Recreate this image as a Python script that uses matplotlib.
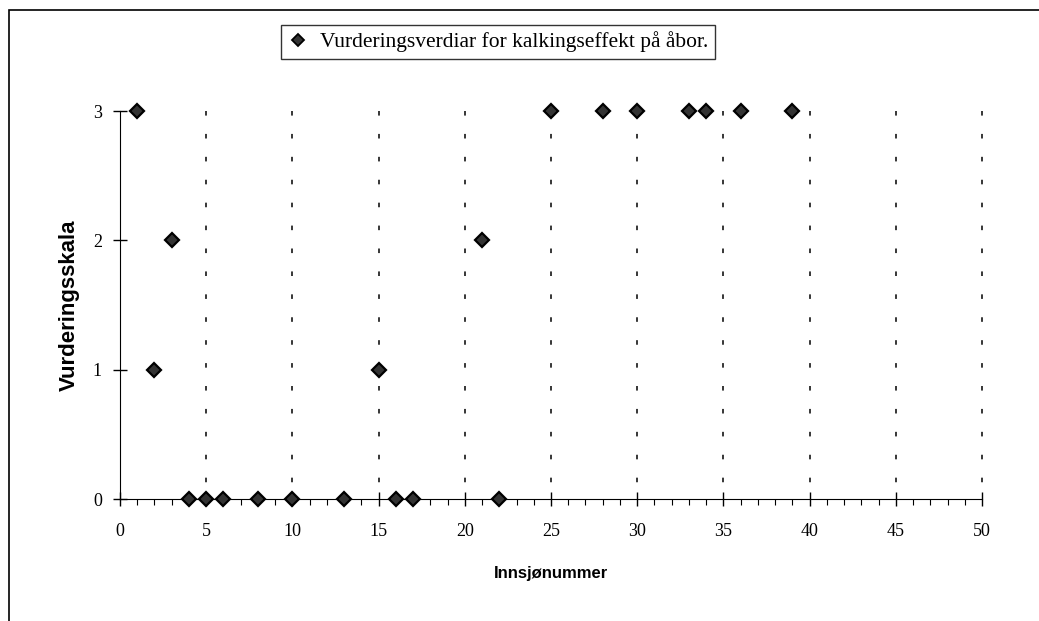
import numpy as np
from matplotlib import pyplot as plt
from matplotlib.lines import Line2D

# lake numbers and score (0-3)
lake = [1, 2, 3, 4, 5, 6, 8, 10, 13, 15, 16, 17, 21, 22, 25, 28, 30, 33, 34, 36, 39]
score = [3, 1, 2, 0, 0, 0, 0, 0, 0, 1, 0, 0, 2, 0, 3, 3, 3, 3, 3, 3, 3]
xticks = [0, 5, 10, 15, 20, 25, 30, 35, 40, 45, 50]
yticks = [0, 1, 2, 3]
legend_text = "Vurderingsverdiar for kalkingseffekt på åbor."

fig = plt.figure(figsize=(10.39, 6.21), dpi=100)
ax = fig.add_axes([120/1039, 1-499/621, (982-120)/1039, (499-111)/621])

# dashed vertical grid lines, drawn from the top down
for gx in xticks[1:]:
    ax.plot([gx, gx], [3, 0], color='black', lw=1.1, linestyle=(0, (3, 12)),
            clip_on=False, zorder=1)

ax.plot(lake, score, linestyle='none', marker='D', markersize=7.5,
        markerfacecolor='#333333', markeredgecolor='black', markeredgewidth=1.6,
        clip_on=False, zorder=3)

ax.set_xlim(0, 50)
ax.set_ylim(0, 3)
ax.spines['top'].set_visible(False)
ax.spines['right'].set_visible(False)
ax.set_xticks(xticks)
ax.set_xticks(np.arange(0, 51, 1), minor=True)
ax.set_yticks(yticks)
ax.tick_params(axis='both', which='major', direction='inout', length=10, width=1,
               labelsize=13)
ax.tick_params(axis='x', which='major', pad=12)
ax.tick_params(axis='y', which='major', pad=8)
ax.tick_params(axis='x', which='minor', direction='out', length=4, width=0.8)
for lab in ax.get_xticklabels() + ax.get_yticklabels():
    lab.set_family('Liberation Serif')

ax.set_xlabel('Innsjønummer', fontsize=12, fontweight='bold',
              family='Liberation Sans', labelpad=19)
ax.set_ylabel('Vurderingsskala', fontsize=16, fontweight='bold',
              family='Liberation Sans', labelpad=9)

handle = Line2D([], [], linestyle='none', marker='D', markersize=6.5,
                markerfacecolor='#333333', markeredgecolor='black', markeredgewidth=1.3)
leg = fig.legend([handle], [legend_text], loc='center',
                 bbox_to_anchor=(498/1039, 1-42/621), frameon=True, fancybox=False,
                 edgecolor='black', handletextpad=0.5, borderpad=0.3, handlelength=1,
                 prop={'family': 'Liberation Serif', 'size': 15.5})
leg.get_frame().set_linewidth(1)

# outer frame of the chart
frame = plt.Rectangle((9/1039, -0.05), 1.1, 1.05 - 10/621, transform=fig.transFigure,
                      fill=False, edgecolor='black', lw=1.2)
fig.add_artist(frame)

fig.savefig('out.png', dpi=100)
